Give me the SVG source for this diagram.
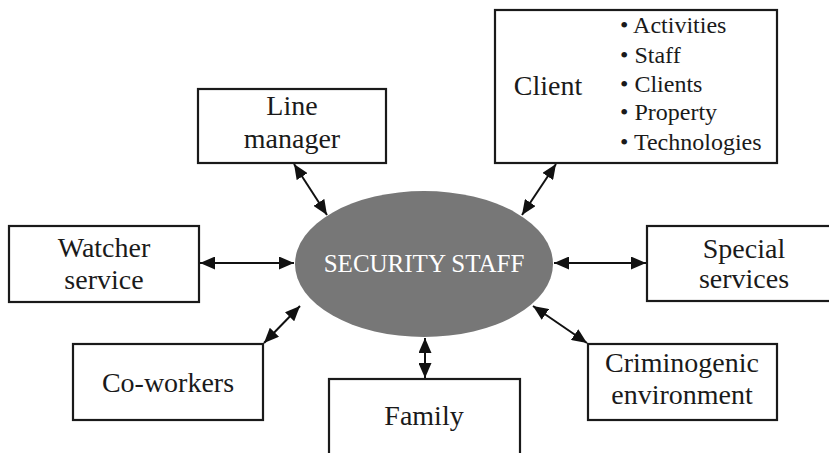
<svg xmlns="http://www.w3.org/2000/svg" width="829" height="453" viewBox="0 0 829 453">
<style>
.box{fill:#fff;stroke:#1a1a1a;stroke-width:2.2}
.lbl{font-family:"Liberation Serif",serif;font-size:28px;fill:#1a1a1a;text-anchor:middle}
.lst{font-family:"Liberation Serif",serif;font-size:24px;fill:#1a1a1a}
.con{stroke:#111;stroke-width:2;fill:none;marker-start:url(#ah);marker-end:url(#ah)}
</style>
<defs>
<marker id="ah" viewBox="0 0 10 10" refX="10" refY="5" markerWidth="15" markerHeight="13" markerUnits="userSpaceOnUse" orient="auto-start-reverse" preserveAspectRatio="none">
<path d="M0,0 L10,5 L0,10 Z" fill="#111"/>
</marker>
</defs>
<rect width="829" height="453" fill="#fff"/>
<g id="connectors">
<line class="con" x1="200" y1="263" x2="294" y2="263"/>
<line class="con" x1="554" y1="263" x2="646" y2="263"/>
<line class="con" x1="294" y1="164" x2="327" y2="215"/>
<line class="con" x1="556" y1="164" x2="522" y2="215"/>
<line class="con" x1="300" y1="306" x2="264" y2="343"/>
<line class="con" x1="533" y1="306" x2="587" y2="343"/>
<line class="con" x1="425" y1="338" x2="425" y2="378"/>
</g>
<g id="security-staff">
<ellipse cx="424" cy="264" rx="129" ry="73" fill="#777"/>
<text x="424" y="272" font-family="Liberation Serif,serif" font-size="25" fill="#fff" text-anchor="middle">SECURITY STAFF</text>
</g>
<g id="line-manager">
<rect class="box" x="198" y="89" width="188" height="74"/>
<text class="lbl" x="292" y="115">Line</text>
<text class="lbl" x="292" y="148">manager</text>
</g>
<g id="client">
<rect class="box" x="495" y="10" width="282" height="153"/>
<text class="lbl" x="548" y="95">Client</text>
<text class="lst" x="620" y="33">• Activities</text>
<text class="lst" x="620" y="63">• Staff</text>
<text class="lst" x="620" y="92">• Clients</text>
<text class="lst" x="620" y="120">• Property</text>
<text class="lst" x="620" y="150">• Technologies</text>
</g>
<g id="watcher-service">
<rect class="box" x="9" y="226" width="190" height="76"/>
<text class="lbl" x="104" y="257">Watcher</text>
<text class="lbl" x="104" y="289">service</text>
</g>
<g id="special-services">
<rect class="box" x="647" y="226" width="190" height="75"/>
<text class="lbl" x="744" y="258">Special</text>
<text class="lbl" x="744" y="288">services</text>
</g>
<g id="co-workers">
<rect class="box" x="73" y="344" width="190" height="76"/>
<text class="lbl" x="168" y="392">Co-workers</text>
</g>
<g id="criminogenic-environment">
<rect class="box" x="588" y="344" width="189" height="76"/>
<text class="lbl" x="682" y="372">Criminogenic</text>
<text class="lbl" x="682" y="404">environment</text>
</g>
<g id="family">
<rect class="box" x="329" y="379" width="191" height="90"/>
<text class="lbl" x="424" y="425">Family</text>
</g>
</svg>
